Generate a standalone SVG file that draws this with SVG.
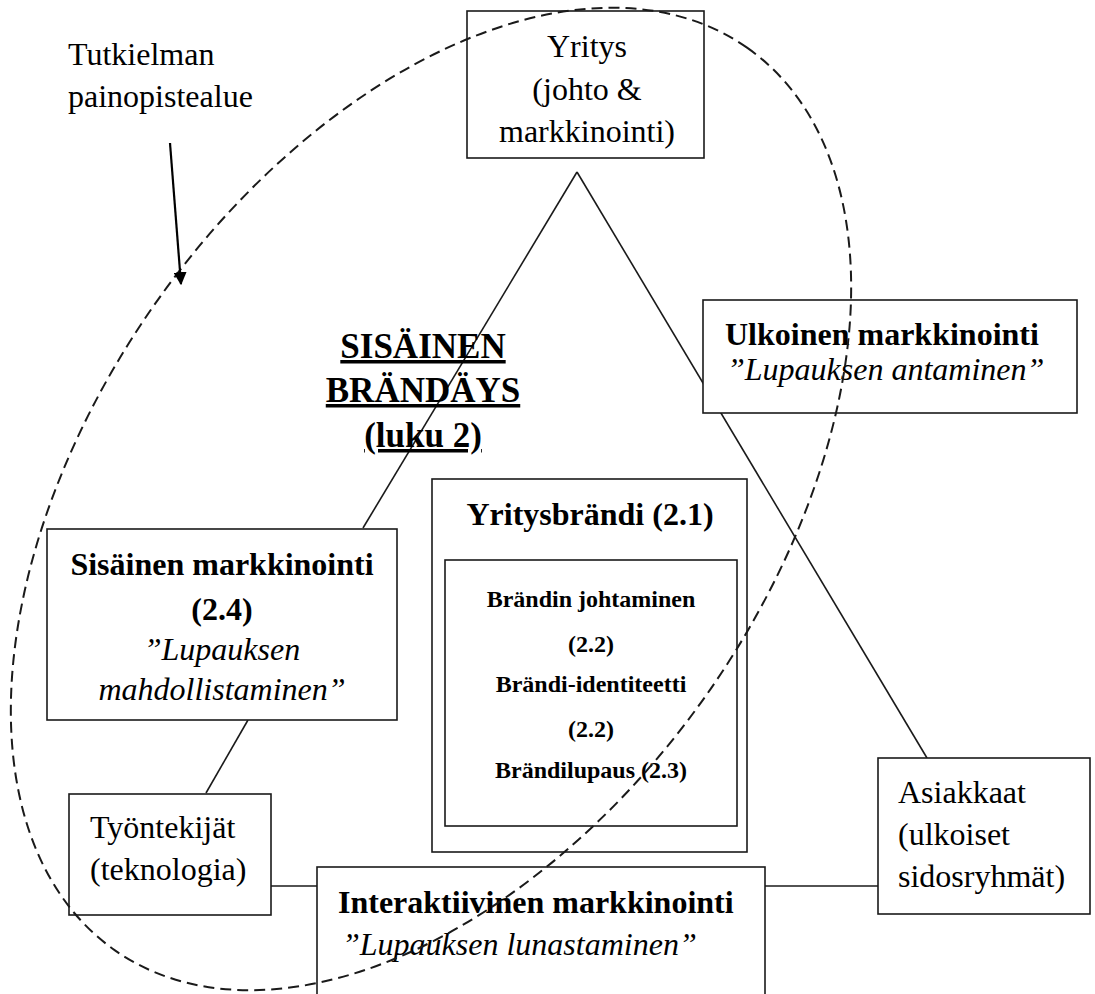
<svg xmlns="http://www.w3.org/2000/svg" width="1095" height="994" viewBox="0 0 1095 994" font-family="'Liberation Serif', 'DejaVu Serif', 'Times New Roman', serif">
<defs>
<style>
.box{fill:#fff;stroke:#1a1a1a;stroke-width:1.6}
.ln{fill:none;stroke:#1a1a1a;stroke-width:1.6}
text{font-family:'Liberation Serif','DejaVu Serif',serif;fill:#000}
.r{font-size:32px}
.b{font-size:32px;font-weight:bold}
.i{font-size:32px;font-style:italic}
.s{font-size:24px;font-weight:bold}
.h{font-size:35px;font-weight:bold;text-decoration:underline}
.m{text-anchor:middle}
.dash{fill:none;stroke:#1a1a1a;stroke-width:2;stroke-dasharray:11 6}
</style>
<marker id="ah" viewBox="0 0 10 10" refX="9" refY="5" markerWidth="6" markerHeight="6" orient="auto" markerUnits="strokeWidth">
<path d="M0,0 L10,5 L0,10 z" fill="#000"/>
</marker>
</defs>
<rect width="1095" height="994" fill="#fff"/>

<g id="connectors">
<line class="ln" x1="577" y1="172" x2="363" y2="528"/>
<line class="ln" x1="248" y1="720" x2="206" y2="793"/>
<line class="ln" x1="577" y1="172" x2="927" y2="758"/>
<line class="ln" x1="271" y1="886" x2="878" y2="886"/>
</g>

<g id="yritys">
<rect class="box" x="467" y="11" width="237" height="147"/>
<text class="r m" x="587" y="57">Yritys</text>
<text class="r m" x="587" y="100">(johto &amp;</text>
<text class="r m" x="587" y="142">markkinointi)</text>
</g>

<g id="ulkoinen">
<rect class="box" x="703" y="300" width="374" height="113"/>
<text class="b" x="725" y="345">Ulkoinen markkinointi</text>
<text class="i" x="727" y="380">”Lupauksen antaminen”</text>
</g>

<g id="sisainen-brandays">
<text class="h m" x="423" y="358">SISÄINEN</text>
<text class="h m" x="423" y="402">BRÄNDÄYS</text>
<text class="h m" x="423" y="447">(luku 2)</text>
</g>

<g id="sisainen-markkinointi">
<rect class="box" x="47" y="529" width="350" height="191"/>
<text class="b m" x="222" y="575">Sisäinen markkinointi</text>
<text class="b m" x="222" y="620">(2.4)</text>
<text class="i m" x="222" y="660">”Lupauksen</text>
<text class="i m" x="222" y="700">mahdollistaminen”</text>
</g>

<g id="yritysbrandi">
<rect class="box" x="432" y="479" width="315" height="373"/>
<text class="b m" x="590" y="525">Yritysbrändi (2.1)</text>
<rect class="box" x="445" y="560" width="292" height="266"/>
<text class="s m" x="591" y="607">Brändin johtaminen</text>
<text class="s m" x="591" y="652">(2.2)</text>
<text class="s m" x="591" y="692">Brändi-identiteetti</text>
<text class="s m" x="591" y="737">(2.2)</text>
<text class="s m" x="591" y="778">Brändilupaus (2.3)</text>
</g>

<g id="tyontekijat">
<rect class="box" x="69" y="794" width="202" height="121"/>
<text class="r" x="90" y="838">Työntekijät</text>
<text class="r" x="90" y="880">(teknologia)</text>
</g>

<g id="interaktiivinen">
<rect class="box" x="317" y="867" width="448" height="140"/>
<text class="b" x="338" y="913">Interaktiivinen markkinointi</text>
<text class="i" x="342" y="955">”Lupauksen lunastaminen”</text>
</g>

<g id="asiakkaat">
<rect class="box" x="878" y="758" width="212" height="156"/>
<text class="r" x="898" y="803">Asiakkaat</text>
<text class="r" x="898" y="845">(ulkoiset</text>
<text class="r" x="898" y="887">sidosryhmät)</text>
</g>

<g id="painopistealue">
<ellipse class="dash" cx="431" cy="499" rx="551" ry="338" transform="rotate(-55 431 499)"/>
<text class="r" x="68" y="65">Tutkielman</text>
<text class="r" x="68" y="107">painopistealue</text>
<line x1="170" y1="143" x2="181" y2="284" stroke="#000" stroke-width="2.2" marker-end="url(#ah)"/>
</g>
</svg>
